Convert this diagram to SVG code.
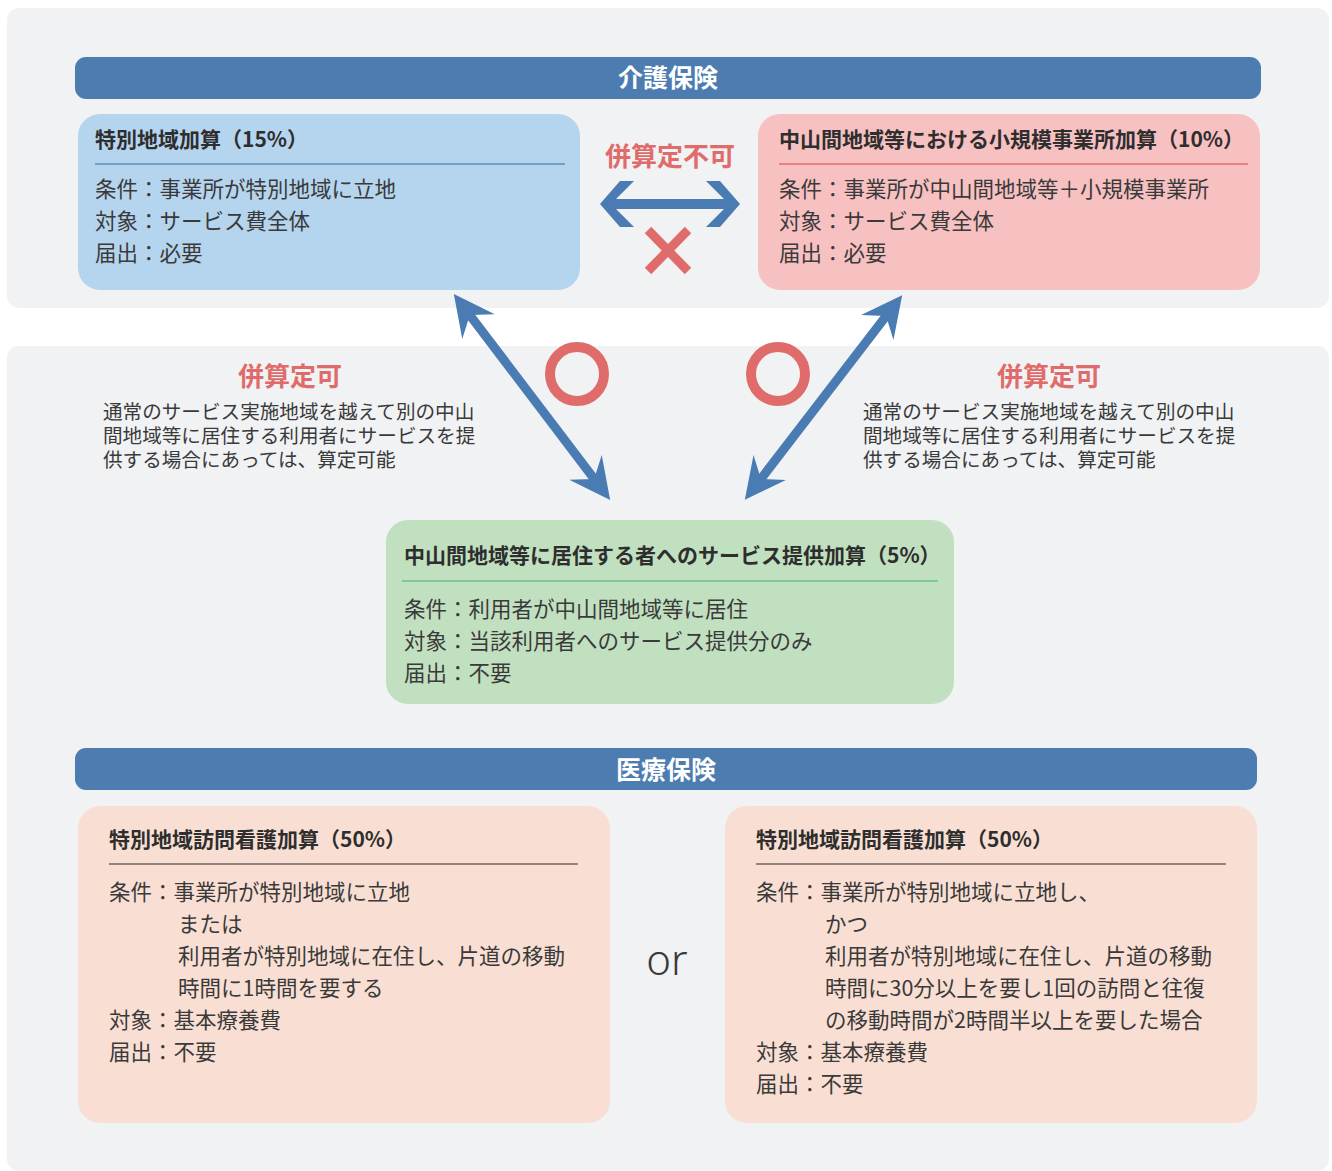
<svg xmlns="http://www.w3.org/2000/svg" width="1332" height="1171" viewBox="0 0 1332 1171">
<defs>
<style>
text{font-family:"Noto Sans CJK JP","Noto Sans",sans-serif;fill:#3a3a3a}
.hd{font-size:25px;font-weight:bold;fill:#fff;text-anchor:middle}
.tt{font-size:21px;font-weight:bold;fill:#2e2e2e}
.bd{font-size:21.5px}
.ds{font-size:19.6px}
.rd{font-size:26px;font-weight:bold;fill:#e06b6b;text-anchor:middle}
.panel{fill:#f1f2f4}
.bar{fill:#4d7cb0}
.arr{stroke:#4a7bb2;stroke-width:9;fill:none}
</style>
<marker id="ah" markerUnits="userSpaceOnUse" markerWidth="60" markerHeight="60" viewBox="-40 -20 50 40" refX="-18" refY="0" orient="auto-start-reverse">
<path d="M0,0 L-34,-17 L-22,0 L-34,17 Z" fill="#4a7bb2"/>
</marker>
</defs>
<rect width="1332" height="1171" fill="#fff"/>
<rect class="panel" x="7" y="8" width="1322" height="300" rx="12"/>
<rect class="panel" x="7" y="346" width="1322" height="825" rx="12"/>

<g id="header-kaigo">
<rect class="bar" x="75" y="57" width="1186" height="42" rx="11"/>
<text class="hd" x="668" y="87">介護保険</text>
</g>

<g id="node-tokubetsu">
<rect x="78" y="114" width="502" height="176" rx="22" fill="#b5d4ee"/>
<text class="tt" x="95" y="147">特別地域加算（15%）</text>
<line x1="95" y1="164" x2="565" y2="164" stroke="#5b8cc4" stroke-width="1.5"/>
<text class="bd" x="95" y="197">条件：事業所が特別地域に立地</text>
<text class="bd" x="95" y="229">対象：サービス費全体</text>
<text class="bd" x="95" y="261">届出：必要</text>
</g>

<g id="node-chusankan-small">
<rect x="758" y="114" width="502" height="176" rx="22" fill="#f7c0c1"/>
<text class="tt" x="779" y="147">中山間地域等における小規模事業所加算（10%）</text>
<line x1="779" y1="164" x2="1248" y2="164" stroke="#e07070" stroke-width="1.5"/>
<text class="bd" x="779" y="197">条件：事業所が中山間地域等＋小規模事業所</text>
<text class="bd" x="779" y="229">対象：サービス費全体</text>
<text class="bd" x="779" y="261">届出：必要</text>
</g>

<g id="node-chusankan-resident">
<rect x="386" y="520" width="568" height="184" rx="22" fill="#c1e0c0"/>
<text class="tt" x="404" y="563">中山間地域等に居住する者へのサービス提供加算（5%）</text>
<line x1="402" y1="581" x2="938" y2="581" stroke="#6cbf9a" stroke-width="1.5"/>
<text class="bd" x="404" y="617">条件：利用者が中山間地域等に居住</text>
<text class="bd" x="404" y="649">対象：当該利用者へのサービス提供分のみ</text>
<text class="bd" x="404" y="681">届出：不要</text>
</g>

<g id="header-iryo">
<rect class="bar" x="75" y="748" width="1182" height="42" rx="11"/>
<text class="hd" x="666" y="779">医療保険</text>
</g>

<g id="node-houmon-1">
<rect x="78" y="806" width="532" height="317" rx="22" fill="#f9dfd3"/>
<text class="tt" x="109" y="847">特別地域訪問看護加算（50%）</text>
<line x1="109" y1="864" x2="578" y2="864" stroke="#6d6464" stroke-width="1.5"/>
<text class="bd" x="109" y="900">条件：事業所が特別地域に立地</text>
<text class="bd" x="178" y="932">または</text>
<text class="bd" x="178" y="964">利用者が特別地域に在住し、片道の移動</text>
<text class="bd" x="178" y="996">時間に1時間を要する</text>
<text class="bd" x="109" y="1028">対象：基本療養費</text>
<text class="bd" x="109" y="1060">届出：不要</text>
</g>

<g id="node-houmon-2">
<rect x="725" y="806" width="532" height="317" rx="22" fill="#f9dfd3"/>
<text class="tt" x="756" y="847">特別地域訪問看護加算（50%）</text>
<line x1="756" y1="864" x2="1226" y2="864" stroke="#6d6464" stroke-width="1.5"/>
<text class="bd" x="756" y="900">条件：事業所が特別地域に立地し、</text>
<text class="bd" x="825" y="932">かつ</text>
<text class="bd" x="825" y="964">利用者が特別地域に在住し、片道の移動</text>
<text class="bd" x="825" y="996">時間に30分以上を要し1回の訪問と往復</text>
<text class="bd" x="825" y="1028">の移動時間が2時間半以上を要した場合</text>
<text class="bd" x="756" y="1060">対象：基本療養費</text>
<text class="bd" x="756" y="1092">届出：不要</text>
</g>

<text x="667" y="975" font-size="42" font-weight="300" text-anchor="middle" style="font-family:'Noto Sans',sans-serif">or</text>

<g id="labels">
<text class="rd" x="670" y="166">併算定不可</text>
<text class="rd" x="290" y="386">併算定可</text>
<text class="ds"><tspan x="103" y="419">通常のサービス実施地域を越えて別の中山</tspan><tspan x="103" y="443">間地域等に居住する利用者にサービスを提</tspan><tspan x="103" y="467">供する場合にあっては、算定可能</tspan></text>
<text class="rd" x="1049" y="386">併算定可</text>
<text class="ds"><tspan x="863" y="419">通常のサービス実施地域を越えて別の中山</tspan><tspan x="863" y="443">間地域等に居住する利用者にサービスを提</tspan><tspan x="863" y="467">供する場合にあっては、算定可能</tspan></text>
</g>

<g id="connectors">
<path d="M600,204 L620,181 L634,181 L616,199 L724,199 L706,181 L720,181 L740,204 L720,227 L706,227 L724,209 L616,209 L634,227 L620,227 Z" fill="#4a7bb2"/>
<g stroke="#e06b6b" stroke-width="9">
<line x1="648" y1="230" x2="688" y2="271"/>
<line x1="688" y1="230" x2="648" y2="271"/>
</g>
<line class="arr" x1="466.9" y1="311.3" x2="597.1" y2="482.7" marker-start="url(#ah)" marker-end="url(#ah)"/>
<line class="arr" x1="889" y1="312.3" x2="758" y2="482.7" marker-start="url(#ah)" marker-end="url(#ah)"/>
<circle cx="577" cy="374" r="27" fill="none" stroke="#e06b6b" stroke-width="10"/>
<circle cx="778" cy="374" r="27" fill="none" stroke="#e06b6b" stroke-width="10"/>
</g>
</svg>
